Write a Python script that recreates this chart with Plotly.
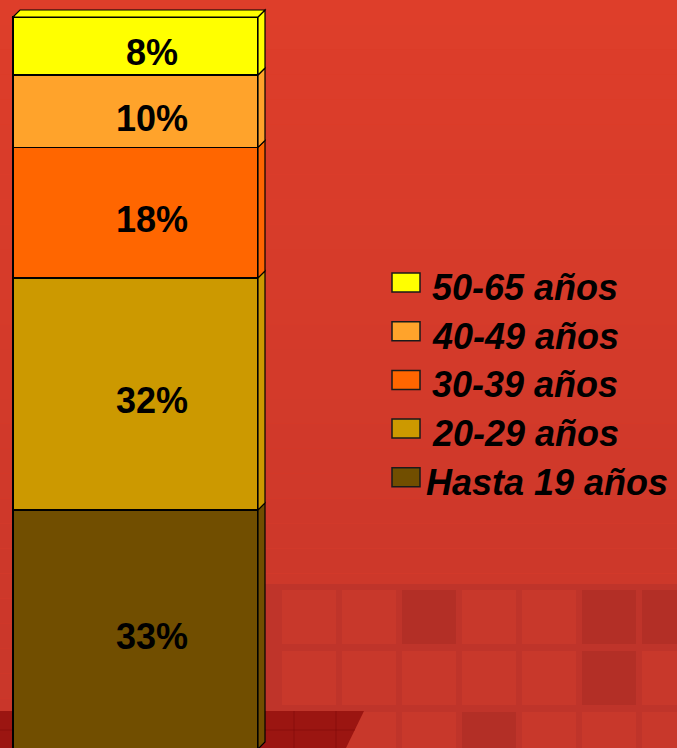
"""
Barra apilada 3D: distribución por edades (porcentaje).
"""
import plotly.graph_objects as go

# ---------------------------------------------------------------------------
# Datos
# ---------------------------------------------------------------------------
categorias = ["Hasta 19 años", "20-29 años", "30-39 años", "40-49 años", "50-65 años"]
valores = [33, 32, 18, 10, 8]
etiquetas = ["33%", "32%", "18%", "10%", "8%"]
colores = ["#714E00", "#CC9900", "#FF6600", "#FFA32B", "#FFFF00"]

W, H = 677, 748
BG_TOP = (222, 62, 42)
BG_BOTTOM = (200, 54, 42)

# geometría (unidades de eje)
BAR_W = 1.0
PX_X = 245.0          # px por unidad en x
PX_Y = 7.248          # px por unidad en y
DX = 7 / PX_X         # profundidad del efecto 3D
DY = 7 / PX_Y
x_range = [-135.5 / PX_X, (W - 135.5) / PX_X]
total = sum(valores)
y_range = [1 / PX_Y, total + 17 / PX_Y]

fig = go.Figure()

for cat, val, col in zip(categorias, valores, colores):
    fig.add_trace(go.Bar(
        x=[0], y=[val], name=cat, width=BAR_W,
        marker=dict(color=col, line=dict(color="black", width=1.5)),
        hoverinfo="name+y", showlegend=False,
    ))

shapes = []

# fondo degradado en bandas
n_bands = 30
for i in range(n_bands):
    t = i / (n_bands - 1)
    c = tuple(round(a + (b - a) * t) for a, b in zip(BG_TOP, BG_BOTTOM))
    shapes.append(dict(
        type="rect", xref="paper", yref="paper", layer="below",
        x0=0, x1=1, y0=1 - (i + 1) / n_bands, y1=1 - i / n_bands,
        fillcolor="rgb(%d,%d,%d)" % c, line=dict(width=0),
    ))

# cuadrícula decorativa inferior
def px_rect(x0, y0, x1, y1, color):
    return dict(type="rect", xref="paper", yref="paper", layer="below",
                x0=x0 / W, x1=x1 / W, y0=1 - y1 / H, y1=1 - y0 / H,
                fillcolor=color, line=dict(width=0))

shapes.append(px_rect(262, 584, W, H, "#BF342A"))
row_tops = [590, 651, 712]
dark = {(0, 2), (0, 5), (0, 6), (1, 5), (2, 3)}
for r, yt in enumerate(row_tops):
    for c in range(7):
        xl = 282 + c * 60
        col = "#B32F26" if (r, c) in dark else "#C8382B"
        shapes.append(px_rect(xl, yt, xl + 54, yt + 54, col))

# mancha oscura abajo a la izquierda
shapes.append(dict(
    type="path", xref="paper", yref="paper", layer="below",
    path="M 0 %f L %f %f L %f 0 L 0 0 Z" % (1 - 711 / H, 364 / W, 1 - 711 / H, 346 / W),
    fillcolor="#9B1511", line=dict(width=0),
))
for k in range(1, 9):
    xg = k * 42 / W
    shapes.append(dict(type="line", xref="paper", yref="paper", layer="below",
                       x0=xg, x1=xg, y0=0, y1=1 - 711 / H,
                       line=dict(color="rgba(120,10,10,0.5)", width=1)))
shapes.append(dict(type="line", xref="paper", yref="paper", layer="below",
                   x0=0, x1=355 / W, y0=1 - 730 / H, y1=1 - 730 / H,
                   line=dict(color="rgba(120,10,10,0.5)", width=1)))

# caras laterales y superior (efecto 3D)
x0, x1 = -BAR_W / 2, BAR_W / 2
base = 0
for val, col in zip(valores, colores):
    top = base + val
    shapes.append(dict(
        type="path", xref="x", yref="y", layer="above",
        path="M %f %f L %f %f L %f %f L %f %f Z" % (
            x1, base, x1 + DX, base + DY, x1 + DX, top + DY, x1, top),
        fillcolor=col, line=dict(color="black", width=1.2),
    ))
    base = top
shapes.append(dict(
    type="path", xref="x", yref="y", layer="above",
    path="M %f %f L %f %f L %f %f L %f %f Z" % (
        x0, total, x0 + DX, total + DY, x1 + DX, total + DY, x1, total),
    fillcolor=colores[-1], line=dict(color="black", width=1.2),
))

annotations = []
base = 0
for val, lab in zip(valores, etiquetas):
    annotations.append(dict(
        x=16 / PX_X, y=base + val / 2, xref="x", yref="y", text=lab,
        showarrow=False, yshift=-7,
        font=dict(family="Liberation Sans, Arial", size=36, color="black", weight="bold"),
    ))
    base += val

# leyenda manual (orden inverso al apilado)
leg_top = 273
leg_step = 48.7
for i, (cat, col) in enumerate(zip(categorias[::-1], colores[::-1])):
    yt = leg_top + i * leg_step
    shapes.append(dict(
        type="rect", xref="paper", yref="paper",
        x0=392 / W, x1=420 / W, y0=1 - (yt + 19) / H, y1=1 - yt / H,
        fillcolor=col, line=dict(color="#1a1a1a", width=1.5),
    ))
    annotations.append(dict(
        x=(430 if i < 4 else 424) / W, y=1 - (yt + 14.5) / H, xref="paper", yref="paper",
        text="<i>%s</i>" % cat, showarrow=False, xanchor="left", yanchor="middle",
        font=dict(family="Liberation Sans, Arial", size=36, color="black", weight="bold"),
    ))

fig.update_layout(
    width=W, height=H,
    margin=dict(l=0, r=0, t=0, b=0),
    barmode="stack",
    paper_bgcolor="rgb(%d,%d,%d)" % BG_TOP,
    plot_bgcolor="rgba(0,0,0,0)",
    xaxis=dict(range=x_range, visible=False, fixedrange=True),
    yaxis=dict(range=y_range, visible=False, fixedrange=True),
    shapes=shapes,
    annotations=annotations,
    showlegend=False,
)

fig.write_html(
    "out.html",
    config={"displayModeBar": False},
    post_script="document.body.style.margin='0';"
                "document.documentElement.style.overflow='hidden';",
)
